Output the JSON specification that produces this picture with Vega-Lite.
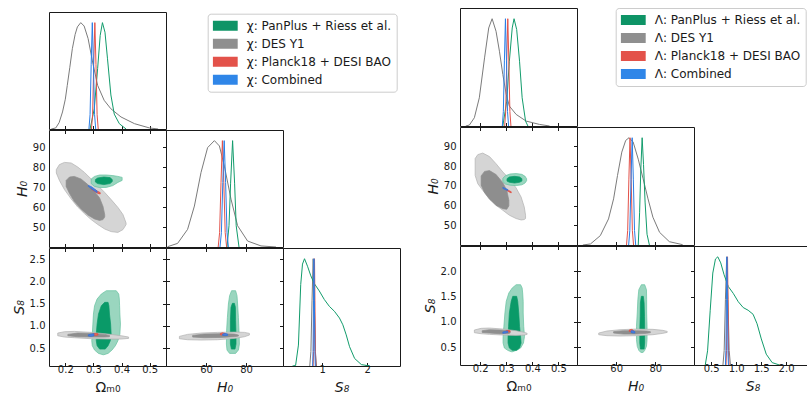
{
"$schema":"https://vega.github.io/schema/vega-lite/v6.json",
"padding":{"left":11,"top":7,"right":0,"bottom":0},
"background":"white",
"config":{"font":"DejaVu Sans","view":{"stroke":"#1a1a1a","strokeWidth":1},
"axis":{"domain":false,"grid":false,"labelFont":"DejaVu Sans","labelFontSize":10,"labelColor":"#1a1a1a","tickColor":"#1a1a1a","tickWidth":1,"titleFont":"DejaVu Sans","titleFontSize":14,"titleFontWeight":"normal","titleColor":"#1a1a1a","labelFlush":false,"labelOverlap":false}},
"datasets":{
"c1":[
{"p":"om","s":"des","x":0.15,"d":0},{"p":"om","s":"des","x":0.166,"d":0.01},{"p":"om","s":"des","x":0.178,"d":0.06},{"p":"om","s":"des","x":0.19,"d":0.16},{"p":"om","s":"des","x":0.2,"d":0.28},{"p":"om","s":"des","x":0.207,"d":0.41},{"p":"om","s":"des","x":0.216,"d":0.58},{"p":"om","s":"des","x":0.225,"d":0.755},{"p":"om","s":"des","x":0.235,"d":0.89},{"p":"om","s":"des","x":0.243,"d":0.96},{"p":"om","s":"des","x":0.255,"d":1.0},{"p":"om","s":"des","x":0.267,"d":0.968},{"p":"om","s":"des","x":0.281,"d":0.85},{"p":"om","s":"des","x":0.297,"d":0.63},{"p":"om","s":"des","x":0.315,"d":0.41},{"p":"om","s":"des","x":0.338,"d":0.27},{"p":"om","s":"des","x":0.362,"d":0.19},{"p":"om","s":"des","x":0.398,"d":0.113},{"p":"om","s":"des","x":0.446,"d":0.05},{"p":"om","s":"des","x":0.499,"d":0.01},{"p":"om","s":"des","x":0.53,"d":0},
{"p":"om","s":"pan","x":0.288,"d":0},{"p":"om","s":"pan","x":0.303,"d":0.19},{"p":"om","s":"pan","x":0.315,"d":0.57},{"p":"om","s":"pan","x":0.324,"d":0.88},{"p":"om","s":"pan","x":0.332,"d":1},{"p":"om","s":"pan","x":0.341,"d":0.91},{"p":"om","s":"pan","x":0.35,"d":0.66},{"p":"om","s":"pan","x":0.362,"d":0.32},{"p":"om","s":"pan","x":0.374,"d":0.14},{"p":"om","s":"pan","x":0.392,"d":0.05},{"p":"om","s":"pan","x":0.416,"d":0},
{"p":"om","s":"pl","x":0.293,"d":0},{"p":"om","s":"pl","x":0.297,"d":0.135},{"p":"om","s":"pl","x":0.301,"d":0.607},{"p":"om","s":"pl","x":0.305,"d":1},{"p":"om","s":"pl","x":0.309,"d":0.607},{"p":"om","s":"pl","x":0.313,"d":0.135},{"p":"om","s":"pl","x":0.317,"d":0},
{"p":"om","s":"co","x":0.284,"d":0},{"p":"om","s":"co","x":0.288,"d":0.135},{"p":"om","s":"co","x":0.292,"d":0.607},{"p":"om","s":"co","x":0.296,"d":1},{"p":"om","s":"co","x":0.3,"d":0.607},{"p":"om","s":"co","x":0.304,"d":0.135},{"p":"om","s":"co","x":0.308,"d":0},
{"p":"h","s":"des","x":40.8,"d":0.003},{"p":"h","s":"des","x":45.8,"d":0.034},{"p":"h","s":"des","x":50.8,"d":0.166},{"p":"h","s":"des","x":54.2,"d":0.385},{"p":"h","s":"des","x":57.5,"d":0.7},{"p":"h","s":"des","x":60.8,"d":0.934},{"p":"h","s":"des","x":64.2,"d":1.0},{"p":"h","s":"des","x":66.7,"d":0.95},{"p":"h","s":"des","x":69.2,"d":0.76},{"p":"h","s":"des","x":72.5,"d":0.45},{"p":"h","s":"des","x":75.8,"d":0.2},{"p":"h","s":"des","x":80.8,"d":0.056},{"p":"h","s":"des","x":87.5,"d":0.01},{"p":"h","s":"des","x":95,"d":0},
{"p":"h","s":"pan","x":70.5,"d":0},{"p":"h","s":"pan","x":71.5,"d":0.2},{"p":"h","s":"pan","x":72.3,"d":0.6},{"p":"h","s":"pan","x":73.3,"d":1},{"p":"h","s":"pan","x":74.3,"d":0.6},{"p":"h","s":"pan","x":75.1,"d":0.2},{"p":"h","s":"pan","x":76.5,"d":0},
{"p":"h","s":"pl","x":66.1,"d":0},{"p":"h","s":"pl","x":66.8,"d":0.135},{"p":"h","s":"pl","x":67.5,"d":0.607},{"p":"h","s":"pl","x":68.2,"d":1},{"p":"h","s":"pl","x":68.9,"d":0.607},{"p":"h","s":"pl","x":69.6,"d":0.135},{"p":"h","s":"pl","x":70.3,"d":0},
{"p":"h","s":"co","x":67.0,"d":0},{"p":"h","s":"co","x":67.7,"d":0.135},{"p":"h","s":"co","x":68.4,"d":0.607},{"p":"h","s":"co","x":69.1,"d":1},{"p":"h","s":"co","x":69.8,"d":0.607},{"p":"h","s":"co","x":70.5,"d":0.135},{"p":"h","s":"co","x":71.2,"d":0},
{"p":"s","s":"des","x":0.725,"d":0},{"p":"s","s":"des","x":0.75,"d":0.135},{"p":"s","s":"des","x":0.775,"d":0.607},{"p":"s","s":"des","x":0.8,"d":1},{"p":"s","s":"des","x":0.825,"d":0.607},{"p":"s","s":"des","x":0.85,"d":0.135},{"p":"s","s":"des","x":0.875,"d":0},
{"p":"s","s":"pan","x":0.34,"d":0},{"p":"s","s":"pan","x":0.41,"d":0.005},{"p":"s","s":"pan","x":0.473,"d":0.195},{"p":"s","s":"pan","x":0.524,"d":0.76},{"p":"s","s":"pan","x":0.563,"d":0.95},{"p":"s","s":"pan","x":0.608,"d":1.0},{"p":"s","s":"pan","x":0.675,"d":0.93},{"p":"s","s":"pan","x":0.749,"d":0.84},{"p":"s","s":"pan","x":0.823,"d":0.77},{"p":"s","s":"pan","x":0.936,"d":0.7},{"p":"s","s":"pan","x":1.048,"d":0.62},{"p":"s","s":"pan","x":1.16,"d":0.556},{"p":"s","s":"pan","x":1.273,"d":0.51},{"p":"s","s":"pan","x":1.385,"d":0.447},{"p":"s","s":"pan","x":1.46,"d":0.384},{"p":"s","s":"pan","x":1.535,"d":0.29},{"p":"s","s":"pan","x":1.609,"d":0.18},{"p":"s","s":"pan","x":1.722,"d":0.07},{"p":"s","s":"pan","x":1.872,"d":0.013},{"p":"s","s":"pan","x":2.06,"d":0},
{"p":"s","s":"pl","x":0.8,"d":0},{"p":"s","s":"pl","x":0.81,"d":0.135},{"p":"s","s":"pl","x":0.82,"d":0.607},{"p":"s","s":"pl","x":0.83,"d":1},{"p":"s","s":"pl","x":0.84,"d":0.607},{"p":"s","s":"pl","x":0.85,"d":0.135},{"p":"s","s":"pl","x":0.86,"d":0},
{"p":"s","s":"co","x":0.788,"d":0},{"p":"s","s":"co","x":0.798,"d":0.135},{"p":"s","s":"co","x":0.808,"d":0.607},{"p":"s","s":"co","x":0.818,"d":1},{"p":"s","s":"co","x":0.828,"d":0.607},{"p":"s","s":"co","x":0.838,"d":0.135},{"p":"s","s":"co","x":0.848,"d":0}
],
"r1":[
{"p":"om","s":"des","x":0.145,"d":0},{"p":"om","s":"des","x":0.159,"d":0.009},{"p":"om","s":"des","x":0.178,"d":0.077},{"p":"om","s":"des","x":0.197,"d":0.263},{"p":"om","s":"des","x":0.217,"d":0.635},{"p":"om","s":"des","x":0.233,"d":0.914},{"p":"om","s":"des","x":0.246,"d":1.0},{"p":"om","s":"des","x":0.261,"d":0.883},{"p":"om","s":"des","x":0.274,"d":0.697},{"p":"om","s":"des","x":0.287,"d":0.48},{"p":"om","s":"des","x":0.3,"d":0.294},{"p":"om","s":"des","x":0.312,"d":0.186},{"p":"om","s":"des","x":0.338,"d":0.108},{"p":"om","s":"des","x":0.376,"d":0.046},{"p":"om","s":"des","x":0.427,"d":0.015},{"p":"om","s":"des","x":0.466,"d":0},
{"p":"om","s":"pan","x":0.287,"d":0},{"p":"om","s":"pan","x":0.302,"d":0.232},{"p":"om","s":"pan","x":0.312,"d":0.604},{"p":"om","s":"pan","x":0.323,"d":0.914},{"p":"om","s":"pan","x":0.33,"d":1},{"p":"om","s":"pan","x":0.34,"d":0.899},{"p":"om","s":"pan","x":0.351,"d":0.604},{"p":"om","s":"pan","x":0.361,"d":0.263},{"p":"om","s":"pan","x":0.374,"d":0.046},{"p":"om","s":"pan","x":0.383,"d":0},
{"p":"om","s":"pl","x":0.294,"d":0},{"p":"om","s":"pl","x":0.298,"d":0.135},{"p":"om","s":"pl","x":0.302,"d":0.607},{"p":"om","s":"pl","x":0.306,"d":1},{"p":"om","s":"pl","x":0.31,"d":0.607},{"p":"om","s":"pl","x":0.314,"d":0.135},{"p":"om","s":"pl","x":0.318,"d":0},
{"p":"om","s":"co","x":0.285,"d":0},{"p":"om","s":"co","x":0.289,"d":0.135},{"p":"om","s":"co","x":0.293,"d":0.607},{"p":"om","s":"co","x":0.297,"d":1},{"p":"om","s":"co","x":0.301,"d":0.607},{"p":"om","s":"co","x":0.305,"d":0.135},{"p":"om","s":"co","x":0.309,"d":0},
{"p":"h","s":"des","x":43,"d":0},{"p":"h","s":"des","x":46.9,"d":0.01},{"p":"h","s":"des","x":51.9,"d":0.087},{"p":"h","s":"des","x":56.1,"d":0.243},{"p":"h","s":"des","x":58.7,"d":0.43},{"p":"h","s":"des","x":60.7,"d":0.648},{"p":"h","s":"des","x":62.9,"d":0.866},{"p":"h","s":"des","x":64.9,"d":0.975},{"p":"h","s":"des","x":66.6,"d":1.0},{"p":"h","s":"des","x":68.7,"d":0.96},{"p":"h","s":"des","x":71.3,"d":0.8},{"p":"h","s":"des","x":73.8,"d":0.617},{"p":"h","s":"des","x":76.3,"d":0.43},{"p":"h","s":"des","x":78.8,"d":0.259},{"p":"h","s":"des","x":82.2,"d":0.118},{"p":"h","s":"des","x":87.2,"d":0.031},{"p":"h","s":"des","x":94,"d":0.003},
{"p":"h","s":"pan","x":71.3,"d":0},{"p":"h","s":"pan","x":72.0,"d":0.3},{"p":"h","s":"pan","x":72.6,"d":0.7},{"p":"h","s":"pan","x":73.3,"d":1.0},{"p":"h","s":"pan","x":74.0,"d":0.75},{"p":"h","s":"pan","x":74.8,"d":0.4},{"p":"h","s":"pan","x":75.8,"d":0.1},{"p":"h","s":"pan","x":77,"d":0},
{"p":"h","s":"pl","x":65.3,"d":0},{"p":"h","s":"pl","x":65.9,"d":0.135},{"p":"h","s":"pl","x":66.5,"d":0.607},{"p":"h","s":"pl","x":67.1,"d":1},{"p":"h","s":"pl","x":67.7,"d":0.607},{"p":"h","s":"pl","x":68.3,"d":0.135},{"p":"h","s":"pl","x":68.9,"d":0},
{"p":"h","s":"co","x":66.4,"d":0},{"p":"h","s":"co","x":67.0,"d":0.135},{"p":"h","s":"co","x":67.6,"d":0.607},{"p":"h","s":"co","x":68.2,"d":1},{"p":"h","s":"co","x":68.8,"d":0.607},{"p":"h","s":"co","x":69.4,"d":0.135},{"p":"h","s":"co","x":70.0,"d":0},
{"p":"s","s":"des","x":0.735,"d":0},{"p":"s","s":"des","x":0.76,"d":0.135},{"p":"s","s":"des","x":0.785,"d":0.607},{"p":"s","s":"des","x":0.81,"d":1},{"p":"s","s":"des","x":0.835,"d":0.607},{"p":"s","s":"des","x":0.86,"d":0.135},{"p":"s","s":"des","x":0.885,"d":0},
{"p":"s","s":"pan","x":0.381,"d":0},{"p":"s","s":"pan","x":0.427,"d":0.131},{"p":"s","s":"pan","x":0.48,"d":0.506},{"p":"s","s":"pan","x":0.532,"d":0.85},{"p":"s","s":"pan","x":0.585,"d":0.98},{"p":"s","s":"pan","x":0.632,"d":1.0},{"p":"s","s":"pan","x":0.691,"d":0.944},{"p":"s","s":"pan","x":0.758,"d":0.834},{"p":"s","s":"pan","x":0.843,"d":0.725},{"p":"s","s":"pan","x":0.942,"d":0.662},{"p":"s","s":"pan","x":1.042,"d":0.585},{"p":"s","s":"pan","x":1.141,"d":0.531},{"p":"s","s":"pan","x":1.24,"d":0.506},{"p":"s","s":"pan","x":1.339,"d":0.469},{"p":"s","s":"pan","x":1.419,"d":0.381},{"p":"s","s":"pan","x":1.504,"d":0.241},{"p":"s","s":"pan","x":1.603,"d":0.1},{"p":"s","s":"pan","x":1.722,"d":0.022},{"p":"s","s":"pan","x":1.869,"d":0},
{"p":"s","s":"pl","x":0.797,"d":0},{"p":"s","s":"pl","x":0.807,"d":0.135},{"p":"s","s":"pl","x":0.817,"d":0.607},{"p":"s","s":"pl","x":0.827,"d":1},{"p":"s","s":"pl","x":0.837,"d":0.607},{"p":"s","s":"pl","x":0.847,"d":0.135},{"p":"s","s":"pl","x":0.857,"d":0},
{"p":"s","s":"co","x":0.785,"d":0},{"p":"s","s":"co","x":0.795,"d":0.135},{"p":"s","s":"co","x":0.805,"d":0.607},{"p":"s","s":"co","x":0.815,"d":1},{"p":"s","s":"co","x":0.825,"d":0.607},{"p":"s","s":"co","x":0.835,"d":0.135},{"p":"s","s":"co","x":0.845,"d":0}
],
"c2":[
{"pn":"oh","g":"d95","x":0.168,"lo":77.0,"hi":78.7},{"pn":"oh","g":"d95","x":0.179,"lo":73.3,"hi":81.2},{"pn":"oh","g":"d95","x":0.197,"lo":68.7,"hi":82.3},{"pn":"oh","g":"d95","x":0.221,"lo":64.0,"hi":82.0},{"pn":"oh","g":"d95","x":0.244,"lo":60.0,"hi":80.0},{"pn":"oh","g":"d95","x":0.268,"lo":56.7,"hi":77.3},{"pn":"oh","g":"d95","x":0.292,"lo":53.7,"hi":74.0},{"pn":"oh","g":"d95","x":0.316,"lo":51.2,"hi":70.7},{"pn":"oh","g":"d95","x":0.34,"lo":49.0,"hi":67.3},{"pn":"oh","g":"d95","x":0.363,"lo":47.7,"hi":63.7},{"pn":"oh","g":"d95","x":0.387,"lo":47.3,"hi":59.8},{"pn":"oh","g":"d95","x":0.405,"lo":48.7,"hi":56.2},{"pn":"oh","g":"d95","x":0.416,"lo":51.2,"hi":52.0},
{"pn":"oh","g":"d68","x":0.203,"lo":70.3,"hi":73.3},{"pn":"oh","g":"d68","x":0.215,"lo":66.7,"hi":75.0},{"pn":"oh","g":"d68","x":0.232,"lo":62.7,"hi":75.3},{"pn":"oh","g":"d68","x":0.256,"lo":59.0,"hi":74.0},{"pn":"oh","g":"d68","x":0.28,"lo":56.0,"hi":71.2},{"pn":"oh","g":"d68","x":0.304,"lo":54.0,"hi":67.8},{"pn":"oh","g":"d68","x":0.322,"lo":53.3,"hi":64.5},{"pn":"oh","g":"d68","x":0.334,"lo":53.7,"hi":60.3},{"pn":"oh","g":"d68","x":0.34,"lo":55.0,"hi":56.2},
{"pn":"oh","g":"p95","x":0.292,"lo":71.7,"hi":74.0},{"pn":"oh","g":"p95","x":0.304,"lo":70.3,"hi":75.3},{"pn":"oh","g":"p95","x":0.322,"lo":69.7,"hi":76.0},{"pn":"oh","g":"p95","x":0.346,"lo":69.8,"hi":76.0},{"pn":"oh","g":"p95","x":0.369,"lo":70.7,"hi":75.7},{"pn":"oh","g":"p95","x":0.387,"lo":72.3,"hi":75.3},{"pn":"oh","g":"p95","x":0.402,"lo":73.3,"hi":74.8},
{"pn":"oh","g":"p68","x":0.307,"lo":72.5,"hi":73.7},{"pn":"oh","g":"p68","x":0.315,"lo":71.7,"hi":74.5},{"pn":"oh","g":"p68","x":0.337,"lo":71.2,"hi":75.0},{"pn":"oh","g":"p68","x":0.359,"lo":71.7,"hi":74.7},{"pn":"oh","g":"p68","x":0.367,"lo":72.7,"hi":73.7},
{"pn":"oh","g":"pl","x":0.292,"lo":69.0,"hi":69.5},{"pn":"oh","g":"pl","x":0.304,"lo":67.8,"hi":68.7},{"pn":"oh","g":"pl","x":0.316,"lo":66.8,"hi":67.8},{"pn":"oh","g":"pl","x":0.324,"lo":66.5,"hi":67.2},
{"pn":"oh","g":"co","x":0.282,"lo":70.3,"hi":70.8},{"pn":"oh","g":"co","x":0.292,"lo":69.2,"hi":70.2},{"pn":"oh","g":"co","x":0.304,"lo":68.0,"hi":69.0},{"pn":"oh","g":"co","x":0.313,"lo":67.2,"hi":68.0},
{"pn":"os","g":"d95","x":0.173,"lo":0.78,"hi":0.84},{"pn":"os","g":"d95","x":0.197,"lo":0.75,"hi":0.87},{"pn":"os","g":"d95","x":0.232,"lo":0.735,"hi":0.877},{"pn":"os","g":"d95","x":0.292,"lo":0.713,"hi":0.855},{"pn":"os","g":"d95","x":0.352,"lo":0.705,"hi":0.817},{"pn":"os","g":"d95","x":0.399,"lo":0.705,"hi":0.78},{"pn":"os","g":"d95","x":0.425,"lo":0.72,"hi":0.75},
{"pn":"os","g":"d68","x":0.209,"lo":0.78,"hi":0.81},{"pn":"os","g":"d68","x":0.244,"lo":0.757,"hi":0.84},{"pn":"os","g":"d68","x":0.292,"lo":0.75,"hi":0.832},{"pn":"os","g":"d68","x":0.34,"lo":0.75,"hi":0.81},{"pn":"os","g":"d68","x":0.357,"lo":0.757,"hi":0.787},
{"pn":"os","g":"pl","x":0.298,"lo":0.795,"hi":0.825},{"pn":"os","g":"pl","x":0.306,"lo":0.787,"hi":0.832},{"pn":"os","g":"pl","x":0.316,"lo":0.795,"hi":0.825},
{"pn":"os","g":"co","x":0.282,"lo":0.772,"hi":0.802},{"pn":"os","g":"co","x":0.292,"lo":0.765,"hi":0.817},{"pn":"os","g":"co","x":0.302,"lo":0.78,"hi":0.825},
{"pn":"hs","g":"d95","x":46.7,"lo":0.713,"hi":0.765},{"pn":"hs","g":"d95","x":50.8,"lo":0.69,"hi":0.81},{"pn":"hs","g":"d95","x":57.5,"lo":0.683,"hi":0.84},{"pn":"hs","g":"d95","x":65.8,"lo":0.69,"hi":0.855},{"pn":"hs","g":"d95","x":74.2,"lo":0.72,"hi":0.862},{"pn":"hs","g":"d95","x":79.2,"lo":0.757,"hi":0.855},{"pn":"hs","g":"d95","x":81.7,"lo":0.795,"hi":0.832},
{"pn":"hs","g":"d68","x":53.3,"lo":0.75,"hi":0.787},{"pn":"hs","g":"d68","x":59.2,"lo":0.735,"hi":0.817},{"pn":"hs","g":"d68","x":67.5,"lo":0.742,"hi":0.825},{"pn":"hs","g":"d68","x":74.2,"lo":0.757,"hi":0.817},{"pn":"hs","g":"d68","x":76.2,"lo":0.772,"hi":0.795},
{"pn":"hs","g":"pl","x":67.2,"lo":0.802,"hi":0.832},{"pn":"hs","g":"pl","x":68.3,"lo":0.795,"hi":0.847},{"pn":"hs","g":"pl","x":69.5,"lo":0.802,"hi":0.832},
{"pn":"hs","g":"co","x":68.3,"lo":0.787,"hi":0.817},{"pn":"hs","g":"co","x":69.5,"lo":0.78,"hi":0.832},{"pn":"hs","g":"co","x":70.8,"lo":0.787,"hi":0.817}
],
"c2h":[
{"pn":"os","g":"p95","y":0.353,"lo":0.334,"hi":0.337},{"pn":"os","g":"p95","y":0.383,"lo":0.318,"hi":0.352},{"pn":"os","g":"p95","y":0.458,"lo":0.304,"hi":0.366},{"pn":"os","g":"p95","y":0.555,"lo":0.296,"hi":0.378},{"pn":"os","g":"p95","y":0.668,"lo":0.294,"hi":0.387},{"pn":"os","g":"p95","y":0.817,"lo":0.296,"hi":0.394},{"pn":"os","g":"p95","y":1.042,"lo":0.298,"hi":0.396},{"pn":"os","g":"p95","y":1.267,"lo":0.3,"hi":0.394},{"pn":"os","g":"p95","y":1.454,"lo":0.304,"hi":0.393},{"pn":"os","g":"p95","y":1.604,"lo":0.313,"hi":0.392},{"pn":"os","g":"p95","y":1.716,"lo":0.328,"hi":0.39},{"pn":"os","g":"p95","y":1.791,"lo":0.346,"hi":0.381},
{"pn":"os","g":"p68","y":0.48,"lo":0.322,"hi":0.342},{"pn":"os","g":"p68","y":0.555,"lo":0.313,"hi":0.352},{"pn":"os","g":"p68","y":0.668,"lo":0.31,"hi":0.36},{"pn":"os","g":"p68","y":0.817,"lo":0.31,"hi":0.363},{"pn":"os","g":"p68","y":1.042,"lo":0.313,"hi":0.361},{"pn":"os","g":"p68","y":1.267,"lo":0.318,"hi":0.357},{"pn":"os","g":"p68","y":1.454,"lo":0.328,"hi":0.355},{"pn":"os","g":"p68","y":1.529,"lo":0.34,"hi":0.352},
{"pn":"hs","g":"p95","y":0.383,"lo":71.8,"hi":74.8},{"pn":"hs","g":"p95","y":0.458,"lo":70.5,"hi":76.2},{"pn":"hs","g":"p95","y":0.593,"lo":70.2,"hi":76.7},{"pn":"hs","g":"p95","y":0.892,"lo":70.3,"hi":76.5},{"pn":"hs","g":"p95","y":1.192,"lo":70.7,"hi":76.2},{"pn":"hs","g":"p95","y":1.492,"lo":71.2,"hi":75.8},{"pn":"hs","g":"p95","y":1.679,"lo":71.8,"hi":75.5},{"pn":"hs","g":"p95","y":1.791,"lo":72.8,"hi":74.8},
{"pn":"hs","g":"p68","y":0.48,"lo":72.7,"hi":74.5},{"pn":"hs","g":"p68","y":0.593,"lo":72.2,"hi":75.0},{"pn":"hs","g":"p68","y":0.817,"lo":72.2,"hi":75.0},{"pn":"hs","g":"p68","y":1.117,"lo":72.2,"hi":74.8},{"pn":"hs","g":"p68","y":1.417,"lo":72.5,"hi":74.7},{"pn":"hs","g":"p68","y":1.507,"lo":73.2,"hi":74.2}
],
"r2":[
{"pn":"oh","g":"d95","x":0.181,"lo":75.3,"hi":83.8},{"pn":"oh","g":"d95","x":0.191,"lo":71.1,"hi":85.8},{"pn":"oh","g":"d95","x":0.21,"lo":67.7,"hi":86.6},{"pn":"oh","g":"d95","x":0.236,"lo":63.8,"hi":84.8},{"pn":"oh","g":"d95","x":0.261,"lo":60.1,"hi":81.2},{"pn":"oh","g":"d95","x":0.287,"lo":57.6,"hi":77.0},{"pn":"oh","g":"d95","x":0.312,"lo":55.1,"hi":73.6},{"pn":"oh","g":"d95","x":0.338,"lo":53.4,"hi":68.9},{"pn":"oh","g":"d95","x":0.357,"lo":52.7,"hi":64.3},{"pn":"oh","g":"d95","x":0.369,"lo":52.9,"hi":59.3},{"pn":"oh","g":"d95","x":0.374,"lo":53.4,"hi":55.1},
{"pn":"oh","g":"d68","x":0.204,"lo":70.3,"hi":75.0},{"pn":"oh","g":"d68","x":0.217,"lo":66.5,"hi":77.3},{"pn":"oh","g":"d68","x":0.236,"lo":63.2,"hi":77.7},{"pn":"oh","g":"d68","x":0.261,"lo":60.1,"hi":75.7},{"pn":"oh","g":"d68","x":0.287,"lo":58.4,"hi":71.6},{"pn":"oh","g":"d68","x":0.302,"lo":58.1,"hi":67.7},{"pn":"oh","g":"d68","x":0.31,"lo":59.8,"hi":62.7},
{"pn":"oh","g":"p95","x":0.287,"lo":72.1,"hi":73.8},{"pn":"oh","g":"p95","x":0.297,"lo":70.9,"hi":75.1},{"pn":"oh","g":"p95","x":0.315,"lo":70.3,"hi":76.0},{"pn":"oh","g":"p95","x":0.338,"lo":70.1,"hi":76.2},{"pn":"oh","g":"p95","x":0.36,"lo":70.5,"hi":75.8},{"pn":"oh","g":"p95","x":0.372,"lo":71.4,"hi":74.8},{"pn":"oh","g":"p95","x":0.378,"lo":72.6,"hi":73.6},
{"pn":"oh","g":"p68","x":0.303,"lo":72.4,"hi":73.6},{"pn":"oh","g":"p68","x":0.312,"lo":71.8,"hi":74.5},{"pn":"oh","g":"p68","x":0.332,"lo":71.4,"hi":74.8},{"pn":"oh","g":"p68","x":0.351,"lo":71.8,"hi":74.5},{"pn":"oh","g":"p68","x":0.36,"lo":72.4,"hi":73.6},
{"pn":"oh","g":"pl","x":0.302,"lo":67.6,"hi":68.1},{"pn":"oh","g":"pl","x":0.31,"lo":67.0,"hi":67.6},{"pn":"oh","g":"pl","x":0.319,"lo":66.4,"hi":67.0},
{"pn":"oh","g":"co","x":0.287,"lo":68.7,"hi":69.2},{"pn":"oh","g":"co","x":0.296,"lo":68.1,"hi":68.7},{"pn":"oh","g":"co","x":0.306,"lo":67.6,"hi":68.1},
{"pn":"os","g":"d95","x":0.178,"lo":0.788,"hi":0.841},{"pn":"os","g":"d95","x":0.204,"lo":0.768,"hi":0.874},{"pn":"os","g":"d95","x":0.236,"lo":0.755,"hi":0.88},{"pn":"os","g":"d95","x":0.287,"lo":0.742,"hi":0.86},{"pn":"os","g":"d95","x":0.338,"lo":0.735,"hi":0.827},{"pn":"os","g":"d95","x":0.37,"lo":0.742,"hi":0.794},{"pn":"os","g":"d95","x":0.38,"lo":0.755,"hi":0.775},
{"pn":"os","g":"d68","x":0.208,"lo":0.794,"hi":0.827},{"pn":"os","g":"d68","x":0.236,"lo":0.781,"hi":0.847},{"pn":"os","g":"d68","x":0.274,"lo":0.768,"hi":0.841},{"pn":"os","g":"d68","x":0.306,"lo":0.768,"hi":0.827},{"pn":"os","g":"d68","x":0.315,"lo":0.781,"hi":0.808},
{"pn":"os","g":"pl","x":0.3,"lo":0.801,"hi":0.827},{"pn":"os","g":"pl","x":0.307,"lo":0.801,"hi":0.834},{"pn":"os","g":"pl","x":0.315,"lo":0.808,"hi":0.827},
{"pn":"os","g":"co","x":0.287,"lo":0.775,"hi":0.801},{"pn":"os","g":"co","x":0.297,"lo":0.781,"hi":0.814},{"pn":"os","g":"co","x":0.306,"lo":0.794,"hi":0.821},
{"pn":"hs","g":"d95","x":51.1,"lo":0.748,"hi":0.781},{"pn":"hs","g":"d95","x":55.3,"lo":0.729,"hi":0.821},{"pn":"hs","g":"d95","x":62.0,"lo":0.722,"hi":0.847},{"pn":"hs","g":"d95","x":70.4,"lo":0.729,"hi":0.86},{"pn":"hs","g":"d95","x":78.8,"lo":0.748,"hi":0.854},{"pn":"hs","g":"d95","x":83.9,"lo":0.775,"hi":0.834},{"pn":"hs","g":"d95","x":86.1,"lo":0.794,"hi":0.814},
{"pn":"hs","g":"d68","x":58.7,"lo":0.781,"hi":0.808},{"pn":"hs","g":"d68","x":63.7,"lo":0.761,"hi":0.827},{"pn":"hs","g":"d68","x":70.4,"lo":0.761,"hi":0.827},{"pn":"hs","g":"d68","x":75.5,"lo":0.775,"hi":0.821},{"pn":"hs","g":"d68","x":77.5,"lo":0.788,"hi":0.808},
{"pn":"hs","g":"pl","x":66.7,"lo":0.814,"hi":0.841},{"pn":"hs","g":"pl","x":67.7,"lo":0.808,"hi":0.854},{"pn":"hs","g":"pl","x":68.7,"lo":0.814,"hi":0.841},
{"pn":"hs","g":"co","x":67.6,"lo":0.794,"hi":0.827},{"pn":"hs","g":"co","x":68.6,"lo":0.781,"hi":0.827},{"pn":"hs","g":"co","x":69.6,"lo":0.781,"hi":0.808}
],
"r2h":[
{"pn":"os","g":"p95","y":0.412,"lo":0.319,"hi":0.325},{"pn":"os","g":"p95","y":0.439,"lo":0.306,"hi":0.338},{"pn":"os","g":"p95","y":0.485,"lo":0.293,"hi":0.355},{"pn":"os","g":"p95","y":0.584,"lo":0.288,"hi":0.366},{"pn":"os","g":"p95","y":0.715,"lo":0.288,"hi":0.37},{"pn":"os","g":"p95","y":0.913,"lo":0.291,"hi":0.367},{"pn":"os","g":"p95","y":1.177,"lo":0.295,"hi":0.365},{"pn":"os","g":"p95","y":1.407,"lo":0.3,"hi":0.365},{"pn":"os","g":"p95","y":1.572,"lo":0.31,"hi":0.363},{"pn":"os","g":"p95","y":1.671,"lo":0.323,"hi":0.361},{"pn":"os","g":"p95","y":1.736,"lo":0.338,"hi":0.355},
{"pn":"os","g":"p68","y":0.439,"lo":0.323,"hi":0.34},{"pn":"os","g":"p68","y":0.485,"lo":0.312,"hi":0.351},{"pn":"os","g":"p68","y":0.584,"lo":0.307,"hi":0.357},{"pn":"os","g":"p68","y":0.715,"lo":0.307,"hi":0.355},{"pn":"os","g":"p68","y":0.913,"lo":0.309,"hi":0.351},{"pn":"os","g":"p68","y":1.177,"lo":0.312,"hi":0.348},{"pn":"os","g":"p68","y":1.407,"lo":0.319,"hi":0.344},{"pn":"os","g":"p68","y":1.506,"lo":0.325,"hi":0.34},
{"pn":"hs","g":"p95","y":0.399,"lo":72.6,"hi":73.8},{"pn":"hs","g":"p95","y":0.439,"lo":71.6,"hi":74.6},{"pn":"hs","g":"p95","y":0.518,"lo":70.8,"hi":75.5},{"pn":"hs","g":"p95","y":0.65,"lo":70.4,"hi":75.8},{"pn":"hs","g":"p95","y":0.913,"lo":70.4,"hi":75.8},{"pn":"hs","g":"p95","y":1.177,"lo":70.8,"hi":75.6},{"pn":"hs","g":"p95","y":1.44,"lo":71.1,"hi":75.6},{"pn":"hs","g":"p95","y":1.638,"lo":71.6,"hi":75.5},{"pn":"hs","g":"p95","y":1.736,"lo":72.9,"hi":74.6},
{"pn":"hs","g":"p68","y":0.465,"lo":72.4,"hi":74.3},{"pn":"hs","g":"p68","y":0.584,"lo":72.1,"hi":74.6},{"pn":"hs","g":"p68","y":0.847,"lo":72.1,"hi":74.6},{"pn":"hs","g":"p68","y":1.111,"lo":72.3,"hi":74.5},{"pn":"hs","g":"p68","y":1.374,"lo":72.4,"hi":74.3},{"pn":"hs","g":"p68","y":1.506,"lo":72.9,"hi":73.9}
]
},
"spacing":21,
"hconcat":[
{"vconcat":[
{"width":1,"height":3,"data":{"values":[]},"mark":"point","encoding":{},"view":{"stroke":null}},
{"columns":3,"spacing":0,"bounds":"flush","align":"all",
"resolve":{"scale":{"color":"independent","fill":"independent","stroke":"independent"}},
"concat":[
{"width":117,"height":117,"layer":[
 {"data":{"name":"c1"},"transform":[{"filter":"datum.p=='om'"}],"mark":{"type":"line","strokeWidth":1,"clip":true},
  "encoding":{"x":{"field":"x","type":"quantitative","scale":{"domain":[0.142,0.558],"nice":false,"zero":false},"axis":{"orient":"bottom","labels":false,"title":null,"tickSize":-3.5,"values":[0.2,0.3,0.4,0.5]}},
  "y":{"field":"d","type":"quantitative","scale":{"domain":[0,1.1],"nice":false},"axis":null},
  "color":{"field":"s","type":"nominal","scale":{"domain":["des","pan","pl","co"],"range":["#7b7b7b","#129c6c","#e3524a","#2a7de6"]},"legend":null}}},
 {"data":{"values":[]},"mark":"rect","encoding":{"color":{"field":"s","type":"nominal","scale":{"domain":["χ: PanPlus + Riess et al.","χ: DES Y1","χ: Planck18 + DESI BAO","χ: Combined"],"range":["#0e9466","#8f8f8f","#e3524a","#2f86e8"]},
  "legend":{"orient":"none","legendX":158.7,"legendY":1.7,"title":null,"symbolType":"M-1,-0.4H1V0.4H-1Z","symbolSize":625,"symbolStrokeWidth":0,"symbolOpacity":1,"labelFont":"DejaVu Sans","labelFontSize":12,"labelColor":"#1a1a1a","labelOffset":9,"labelLimit":400,"rowPadding":4,"padding":5,"strokeColor":"#cccccc","fillColor":"#ffffff","cornerRadius":3,"clipHeight":14}}}}
],"resolve":{"scale":{"color":"independent"}}},
{"width":117,"height":117,"data":{"values":[]},"mark":"point","encoding":{},"view":{"stroke":null}},
{"width":117,"height":117,"data":{"values":[]},"mark":"point","encoding":{},"view":{"stroke":null}},
{"width":117,"height":117,"layer":[
 {"data":{"name":"c2"},"transform":[{"filter":"datum.pn=='oh' && (datum.g=='d95' || datum.g=='d68')"}],"mark":{"type":"area","orient":"vertical","strokeWidth":0.7,"opacity":1,"clip":true},
  "encoding":{"x":{"field":"x","type":"quantitative","scale":{"domain":[0.142,0.558],"nice":false,"zero":false},"axis":{"orient":"bottom","labels":false,"title":null,"tickSize":-3.5,"values":[0.2,0.3,0.4,0.5]}},
  "y":{"field":"lo","type":"quantitative","stack":null,"scale":{"domain":[40,98.5],"nice":false,"zero":false},"axis":{"orient":"left","ticks":false,"tickSize":0,"labelPadding":4,"title":"H₀","titleFontStyle":"italic","titlePadding":3,"values":[50,60,70,80,90],"format":"d"}},
  "y2":{"field":"hi"},
  "fill":{"field":"g","type":"nominal","scale":{"domain":["p95","p68","d95","d68","pl","co"],"range":["#9ad6bf","#0a9a68","#d5d5d5","#8e8e8e","#e8675b","#4a7fdc"]},"legend":null},
  "stroke":{"field":"g","type":"nominal","scale":{"domain":["p95","p68","d95","d68","pl","co"],"range":["#66c29f","#0a9a68","#b0b0b0","#8e8e8e","#e0483c","#2f6fd8"]},"legend":null}}},
 {"data":{"name":"c2"},"transform":[{"filter":"datum.pn=='oh' && datum.g!='d95' && datum.g!='d68'"}],"mark":{"type":"area","orient":"vertical","strokeWidth":0.7,"opacity":1,"clip":true},
  "encoding":{"x":{"field":"x","type":"quantitative","scale":{"domain":[0.142,0.558],"nice":false,"zero":false},"axis":{"orient":"top","labels":false,"title":null,"tickSize":-3.5,"values":[0.2,0.3,0.4,0.5]}},
  "y":{"field":"lo","type":"quantitative","stack":null,"scale":{"domain":[40,98.5],"nice":false,"zero":false},"axis":{"orient":"right","labels":false,"title":null,"tickSize":-3.5,"values":[50,60,70,80,90]}},
  "y2":{"field":"hi"},
  "fill":{"field":"g","type":"nominal","scale":{"domain":["p95","p68","d95","d68","pl","co"],"range":["#9ad6bf","#0a9a68","#d5d5d5","#8e8e8e","#e8675b","#4a7fdc"]},"legend":null},
  "stroke":{"field":"g","type":"nominal","scale":{"domain":["p95","p68","d95","d68","pl","co"],"range":["#66c29f","#0a9a68","#b0b0b0","#8e8e8e","#e0483c","#2f6fd8"]},"legend":null}}}
],"resolve":{"axis":{"x":"independent","y":"independent"}}},
{"width":117,"height":117,"data":{"name":"c1"},"transform":[{"filter":"datum.p=='h'"}],"mark":{"type":"line","strokeWidth":1,"clip":true},
  "encoding":{"x":{"field":"x","type":"quantitative","scale":{"domain":[40,98.5],"nice":false,"zero":false},"axis":{"orient":"bottom","labels":false,"title":null,"tickSize":-3.5,"values":[60,80]}},
  "y":{"field":"d","type":"quantitative","scale":{"domain":[0,1.1],"nice":false},"axis":null},
  "color":{"field":"s","type":"nominal","scale":{"domain":["des","pan","pl","co"],"range":["#7b7b7b","#129c6c","#e3524a","#2a7de6"]},"legend":null}}},
{"width":117,"height":117,"data":{"values":[]},"mark":"point","encoding":{},"view":{"stroke":null}},
{"width":117,"height":118,"layer":[
 {"data":{"name":"c2h"},"transform":[{"filter":"datum.pn=='os'"}],"mark":{"type":"area","orient":"horizontal","strokeWidth":0.7,"opacity":1,"clip":true},
  "encoding":{"y":{"field":"y","type":"quantitative","scale":{"domain":[0.1,2.75],"nice":false,"zero":false},"axis":{"orient":"left","ticks":false,"tickSize":0,"labelPadding":4,"title":"S₈","titleFontStyle":"italic","titlePadding":3,"values":[0.5,1,1.5,2,2.5],"format":".1f"}},
  "x":{"field":"lo","type":"quantitative","stack":null,"scale":{"domain":[0.142,0.558],"nice":false,"zero":false},"axis":{"orient":"bottom","tickSize":-3.5,"labelPadding":2,"title":"Ωₘ₀","titlePadding":6,"values":[0.2,0.3,0.4,0.5],"format":".1f"}},
  "x2":{"field":"hi"},
  "fill":{"field":"g","type":"nominal","scale":{"domain":["p95","p68","d95","d68","pl","co"],"range":["#9ad6bf","#0a9a68","#d5d5d5","#8e8e8e","#e8675b","#4a7fdc"]},"legend":null},
  "stroke":{"field":"g","type":"nominal","scale":{"domain":["p95","p68","d95","d68","pl","co"],"range":["#66c29f","#0a9a68","#b0b0b0","#8e8e8e","#e0483c","#2f6fd8"]},"legend":null}}},
 {"data":{"name":"c2"},"transform":[{"filter":"datum.pn=='os'"}],"mark":{"type":"area","orient":"vertical","strokeWidth":0.7,"opacity":1,"clip":true},
  "encoding":{"x":{"field":"x","type":"quantitative","scale":{"domain":[0.142,0.558],"nice":false,"zero":false},"axis":{"orient":"top","labels":false,"title":null,"tickSize":-3.5,"values":[0.2,0.3,0.4,0.5]}},
  "y":{"field":"lo","type":"quantitative","stack":null,"scale":{"domain":[0.1,2.75],"nice":false,"zero":false},"axis":{"orient":"right","labels":false,"title":null,"tickSize":-3.5,"values":[0.5,1,1.5,2,2.5]}},
  "y2":{"field":"hi"},
  "fill":{"field":"g","type":"nominal","scale":{"domain":["p95","p68","d95","d68","pl","co"],"range":["#9ad6bf","#0a9a68","#d5d5d5","#8e8e8e","#e8675b","#4a7fdc"]},"legend":null},
  "stroke":{"field":"g","type":"nominal","scale":{"domain":["p95","p68","d95","d68","pl","co"],"range":["#66c29f","#0a9a68","#b0b0b0","#8e8e8e","#e0483c","#2f6fd8"]},"legend":null}}}
],"resolve":{"axis":{"x":"independent","y":"independent"}}},
{"width":117,"height":118,"layer":[
 {"data":{"name":"c2h"},"transform":[{"filter":"datum.pn=='hs'"}],"mark":{"type":"area","orient":"horizontal","strokeWidth":0.7,"opacity":1,"clip":true},
  "encoding":{"y":{"field":"y","type":"quantitative","scale":{"domain":[0.1,2.75],"nice":false,"zero":false},"axis":{"orient":"left","labels":false,"title":null,"tickSize":-3.5,"values":[0.5,1,1.5,2,2.5]}},
  "x":{"field":"lo","type":"quantitative","stack":null,"scale":{"domain":[40,98.5],"nice":false,"zero":false},"axis":{"orient":"bottom","tickSize":-3.5,"labelPadding":2,"title":"H₀","titleFontStyle":"italic","titlePadding":6,"values":[60,80],"format":"d"}},
  "x2":{"field":"hi"},
  "fill":{"field":"g","type":"nominal","scale":{"domain":["p95","p68","d95","d68","pl","co"],"range":["#9ad6bf","#0a9a68","#d5d5d5","#8e8e8e","#e8675b","#4a7fdc"]},"legend":null},
  "stroke":{"field":"g","type":"nominal","scale":{"domain":["p95","p68","d95","d68","pl","co"],"range":["#66c29f","#0a9a68","#b0b0b0","#8e8e8e","#e0483c","#2f6fd8"]},"legend":null}}},
 {"data":{"name":"c2"},"transform":[{"filter":"datum.pn=='hs'"}],"mark":{"type":"area","orient":"vertical","strokeWidth":0.7,"opacity":1,"clip":true},
  "encoding":{"x":{"field":"x","type":"quantitative","scale":{"domain":[40,98.5],"nice":false,"zero":false},"axis":{"orient":"top","labels":false,"title":null,"tickSize":-3.5,"values":[60,80]}},
  "y":{"field":"lo","type":"quantitative","stack":null,"scale":{"domain":[0.1,2.75],"nice":false,"zero":false},"axis":{"orient":"right","labels":false,"title":null,"tickSize":-3.5,"values":[0.5,1,1.5,2,2.5]}},
  "y2":{"field":"hi"},
  "fill":{"field":"g","type":"nominal","scale":{"domain":["p95","p68","d95","d68","pl","co"],"range":["#9ad6bf","#0a9a68","#d5d5d5","#8e8e8e","#e8675b","#4a7fdc"]},"legend":null},
  "stroke":{"field":"g","type":"nominal","scale":{"domain":["p95","p68","d95","d68","pl","co"],"range":["#66c29f","#0a9a68","#b0b0b0","#8e8e8e","#e0483c","#2f6fd8"]},"legend":null}}}
],"resolve":{"axis":{"x":"independent","y":"independent"}}},
{"width":117,"height":118,"data":{"name":"c1"},"transform":[{"filter":"datum.p=='s'"}],"mark":{"type":"line","strokeWidth":1,"clip":true},
  "encoding":{"x":{"field":"x","type":"quantitative","scale":{"domain":[0.13,2.73],"nice":false,"zero":false},"axis":{"orient":"bottom","tickSize":-3.5,"labelPadding":2,"title":"S₈","titleFontStyle":"italic","titlePadding":6,"values":[1,2],"format":"d"}},
  "y":{"field":"d","type":"quantitative","scale":{"domain":[0,1.1],"nice":false},"axis":null},
  "color":{"field":"s","type":"nominal","scale":{"domain":["des","pan","pl","co"],"range":["#7b7b7b","#129c6c","#e3524a","#2a7de6"]},"legend":null}}}
]}
],"spacing":0},
{"columns":3,"spacing":0,"bounds":"flush","align":"all",
"resolve":{"scale":{"color":"independent","fill":"independent","stroke":"independent"}},
"concat":[
{"width":117,"height":118,"layer":[
 {"data":{"name":"r1"},"transform":[{"filter":"datum.p=='om'"}],"mark":{"type":"line","strokeWidth":1,"clip":true},
  "encoding":{"x":{"field":"x","type":"quantitative","scale":{"domain":[0.123,0.571],"nice":false,"zero":false},"axis":{"orient":"bottom","labels":false,"title":null,"tickSize":-3.5,"values":[0.2,0.3,0.4,0.5]}},
  "y":{"field":"d","type":"quantitative","scale":{"domain":[0,1.1],"nice":false},"axis":null},
  "color":{"field":"s","type":"nominal","scale":{"domain":["des","pan","pl","co"],"range":["#7b7b7b","#129c6c","#e3524a","#2a7de6"]},"legend":null}}},
 {"data":{"values":[]},"mark":"rect","encoding":{"color":{"field":"s","type":"nominal","scale":{"domain":["Λ: PanPlus + Riess et al.","Λ: DES Y1","Λ: Planck18 + DESI BAO","Λ: Combined"],"range":["#0e9466","#8f8f8f","#e3524a","#2f86e8"]},
  "legend":{"orient":"none","legendX":155.7,"legendY":0,"title":null,"symbolType":"M-1,-0.4H1V0.4H-1Z","symbolSize":625,"symbolStrokeWidth":0,"symbolOpacity":1,"labelFont":"DejaVu Sans","labelFontSize":12,"labelColor":"#1a1a1a","labelOffset":9,"labelLimit":400,"rowPadding":4,"padding":5,"strokeColor":"#cccccc","fillColor":"#ffffff","cornerRadius":3,"clipHeight":14}}}}
],"resolve":{"scale":{"color":"independent"}}},
{"width":117,"height":118,"data":{"values":[]},"mark":"point","encoding":{},"view":{"stroke":null}},
{"width":117,"height":118,"data":{"values":[]},"mark":"point","encoding":{},"view":{"stroke":null}},
{"width":117,"height":118,"layer":[
 {"data":{"name":"r2"},"transform":[{"filter":"datum.pn=='oh' && (datum.g=='d95' || datum.g=='d68')"}],"mark":{"type":"area","orient":"vertical","strokeWidth":0.7,"opacity":1,"clip":true},
  "encoding":{"x":{"field":"x","type":"quantitative","scale":{"domain":[0.123,0.571],"nice":false,"zero":false},"axis":{"orient":"bottom","labels":false,"title":null,"tickSize":-3.5,"values":[0.2,0.3,0.4,0.5]}},
  "y":{"field":"lo","type":"quantitative","stack":null,"scale":{"domain":[40,99.8],"nice":false,"zero":false},"axis":{"orient":"left","ticks":false,"tickSize":0,"labelPadding":4,"title":"H₀","titleFontStyle":"italic","titlePadding":3,"values":[50,60,70,80,90],"format":"d"}},
  "y2":{"field":"hi"},
  "fill":{"field":"g","type":"nominal","scale":{"domain":["p95","p68","d95","d68","pl","co"],"range":["#9ad6bf","#0a9a68","#d5d5d5","#8e8e8e","#e8675b","#4a7fdc"]},"legend":null},
  "stroke":{"field":"g","type":"nominal","scale":{"domain":["p95","p68","d95","d68","pl","co"],"range":["#66c29f","#0a9a68","#b0b0b0","#8e8e8e","#e0483c","#2f6fd8"]},"legend":null}}},
 {"data":{"name":"r2"},"transform":[{"filter":"datum.pn=='oh' && datum.g!='d95' && datum.g!='d68'"}],"mark":{"type":"area","orient":"vertical","strokeWidth":0.7,"opacity":1,"clip":true},
  "encoding":{"x":{"field":"x","type":"quantitative","scale":{"domain":[0.123,0.571],"nice":false,"zero":false},"axis":{"orient":"top","labels":false,"title":null,"tickSize":-3.5,"values":[0.2,0.3,0.4,0.5]}},
  "y":{"field":"lo","type":"quantitative","stack":null,"scale":{"domain":[40,99.8],"nice":false,"zero":false},"axis":{"orient":"right","labels":false,"title":null,"tickSize":-3.5,"values":[50,60,70,80,90]}},
  "y2":{"field":"hi"},
  "fill":{"field":"g","type":"nominal","scale":{"domain":["p95","p68","d95","d68","pl","co"],"range":["#9ad6bf","#0a9a68","#d5d5d5","#8e8e8e","#e8675b","#4a7fdc"]},"legend":null},
  "stroke":{"field":"g","type":"nominal","scale":{"domain":["p95","p68","d95","d68","pl","co"],"range":["#66c29f","#0a9a68","#b0b0b0","#8e8e8e","#e0483c","#2f6fd8"]},"legend":null}}}
],"resolve":{"axis":{"x":"independent","y":"independent"}}},
{"width":117,"height":118,"data":{"name":"r1"},"transform":[{"filter":"datum.p=='h'"}],"mark":{"type":"line","strokeWidth":1,"clip":true},
  "encoding":{"x":{"field":"x","type":"quantitative","scale":{"domain":[40,99.8],"nice":false,"zero":false},"axis":{"orient":"bottom","labels":false,"title":null,"tickSize":-3.5,"values":[60,80]}},
  "y":{"field":"d","type":"quantitative","scale":{"domain":[0,1.1],"nice":false},"axis":null},
  "color":{"field":"s","type":"nominal","scale":{"domain":["des","pan","pl","co"],"range":["#7b7b7b","#129c6c","#e3524a","#2a7de6"]},"legend":null}}},
{"width":117,"height":118,"data":{"values":[]},"mark":"point","encoding":{},"view":{"stroke":null}},
{"width":117,"height":119,"layer":[
 {"data":{"name":"r2h"},"transform":[{"filter":"datum.pn=='os'"}],"mark":{"type":"area","orient":"horizontal","strokeWidth":0.7,"opacity":1,"clip":true},
  "encoding":{"y":{"field":"y","type":"quantitative","scale":{"domain":[0.15,2.5],"nice":false,"zero":false},"axis":{"orient":"left","ticks":false,"tickSize":0,"labelPadding":4,"title":"S₈","titleFontStyle":"italic","titlePadding":3,"values":[0.5,1,1.5,2],"format":".1f"}},
  "x":{"field":"lo","type":"quantitative","stack":null,"scale":{"domain":[0.123,0.571],"nice":false,"zero":false},"axis":{"orient":"bottom","tickSize":-3.5,"labelPadding":2,"title":"Ωₘ₀","titlePadding":6,"values":[0.2,0.3,0.4,0.5],"format":".1f"}},
  "x2":{"field":"hi"},
  "fill":{"field":"g","type":"nominal","scale":{"domain":["p95","p68","d95","d68","pl","co"],"range":["#9ad6bf","#0a9a68","#d5d5d5","#8e8e8e","#e8675b","#4a7fdc"]},"legend":null},
  "stroke":{"field":"g","type":"nominal","scale":{"domain":["p95","p68","d95","d68","pl","co"],"range":["#66c29f","#0a9a68","#b0b0b0","#8e8e8e","#e0483c","#2f6fd8"]},"legend":null}}},
 {"data":{"name":"r2"},"transform":[{"filter":"datum.pn=='os'"}],"mark":{"type":"area","orient":"vertical","strokeWidth":0.7,"opacity":1,"clip":true},
  "encoding":{"x":{"field":"x","type":"quantitative","scale":{"domain":[0.123,0.571],"nice":false,"zero":false},"axis":{"orient":"top","labels":false,"title":null,"tickSize":-3.5,"values":[0.2,0.3,0.4,0.5]}},
  "y":{"field":"lo","type":"quantitative","stack":null,"scale":{"domain":[0.15,2.5],"nice":false,"zero":false},"axis":{"orient":"right","labels":false,"title":null,"tickSize":-3.5,"values":[0.5,1,1.5,2]}},
  "y2":{"field":"hi"},
  "fill":{"field":"g","type":"nominal","scale":{"domain":["p95","p68","d95","d68","pl","co"],"range":["#9ad6bf","#0a9a68","#d5d5d5","#8e8e8e","#e8675b","#4a7fdc"]},"legend":null},
  "stroke":{"field":"g","type":"nominal","scale":{"domain":["p95","p68","d95","d68","pl","co"],"range":["#66c29f","#0a9a68","#b0b0b0","#8e8e8e","#e0483c","#2f6fd8"]},"legend":null}}}
],"resolve":{"axis":{"x":"independent","y":"independent"}}},
{"width":117,"height":119,"layer":[
 {"data":{"name":"r2h"},"transform":[{"filter":"datum.pn=='hs'"}],"mark":{"type":"area","orient":"horizontal","strokeWidth":0.7,"opacity":1,"clip":true},
  "encoding":{"y":{"field":"y","type":"quantitative","scale":{"domain":[0.15,2.5],"nice":false,"zero":false},"axis":{"orient":"left","labels":false,"title":null,"tickSize":-3.5,"values":[0.5,1,1.5,2]}},
  "x":{"field":"lo","type":"quantitative","stack":null,"scale":{"domain":[40,99.8],"nice":false,"zero":false},"axis":{"orient":"bottom","tickSize":-3.5,"labelPadding":2,"title":"H₀","titleFontStyle":"italic","titlePadding":6,"values":[60,80],"format":"d"}},
  "x2":{"field":"hi"},
  "fill":{"field":"g","type":"nominal","scale":{"domain":["p95","p68","d95","d68","pl","co"],"range":["#9ad6bf","#0a9a68","#d5d5d5","#8e8e8e","#e8675b","#4a7fdc"]},"legend":null},
  "stroke":{"field":"g","type":"nominal","scale":{"domain":["p95","p68","d95","d68","pl","co"],"range":["#66c29f","#0a9a68","#b0b0b0","#8e8e8e","#e0483c","#2f6fd8"]},"legend":null}}},
 {"data":{"name":"r2"},"transform":[{"filter":"datum.pn=='hs'"}],"mark":{"type":"area","orient":"vertical","strokeWidth":0.7,"opacity":1,"clip":true},
  "encoding":{"x":{"field":"x","type":"quantitative","scale":{"domain":[40,99.8],"nice":false,"zero":false},"axis":{"orient":"top","labels":false,"title":null,"tickSize":-3.5,"values":[60,80]}},
  "y":{"field":"lo","type":"quantitative","stack":null,"scale":{"domain":[0.15,2.5],"nice":false,"zero":false},"axis":{"orient":"right","labels":false,"title":null,"tickSize":-3.5,"values":[0.5,1,1.5,2]}},
  "y2":{"field":"hi"},
  "fill":{"field":"g","type":"nominal","scale":{"domain":["p95","p68","d95","d68","pl","co"],"range":["#9ad6bf","#0a9a68","#d5d5d5","#8e8e8e","#e8675b","#4a7fdc"]},"legend":null},
  "stroke":{"field":"g","type":"nominal","scale":{"domain":["p95","p68","d95","d68","pl","co"],"range":["#66c29f","#0a9a68","#b0b0b0","#8e8e8e","#e0483c","#2f6fd8"]},"legend":null}}}
],"resolve":{"axis":{"x":"independent","y":"independent"}}},
{"width":117,"height":119,"data":{"name":"r1"},"transform":[{"filter":"datum.p=='s'"}],"mark":{"type":"line","strokeWidth":1,"clip":true},
  "encoding":{"x":{"field":"x","type":"quantitative","scale":{"domain":[0.155,2.5],"nice":false,"zero":false},"axis":{"orient":"bottom","tickSize":-3.5,"labelPadding":2,"title":"S₈","titleFontStyle":"italic","titlePadding":6,"values":[0.5,1,1.5,2],"format":".1f"}},
  "y":{"field":"d","type":"quantitative","scale":{"domain":[0,1.1],"nice":false},"axis":null},
  "color":{"field":"s","type":"nominal","scale":{"domain":["des","pan","pl","co"],"range":["#7b7b7b","#129c6c","#e3524a","#2a7de6"]},"legend":null}}}
]}
]
}
